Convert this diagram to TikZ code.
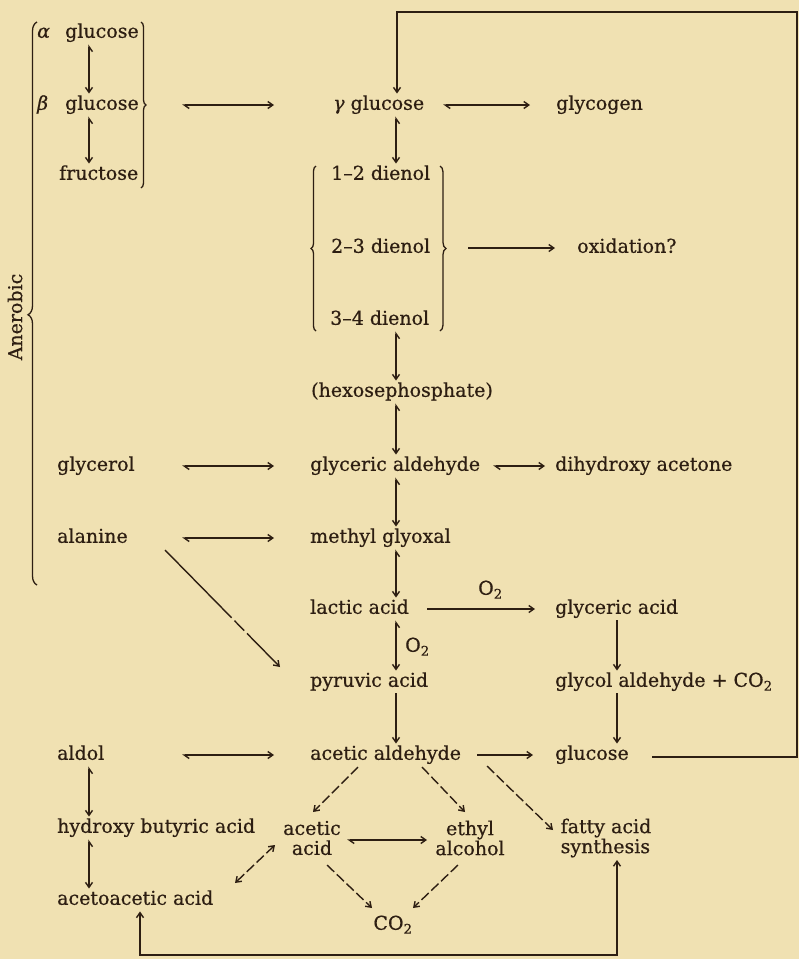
\documentclass[tikz,border=0pt]{standalone}
\usepackage{fontspec}
\setmainfont{DejaVu Serif}[FakeBold=0.6]
\usepackage{tikz}
\usetikzlibrary{arrows.meta, decorations.pathreplacing, calc}
\definecolor{paper}{RGB}{240, 225, 178}
\definecolor{ink}{RGB}{45, 30, 18}

\begin{document}
\begin{tikzpicture}[
    x=1pt, y=-1pt,
    every node/.style={text=ink},
    chem/.style={anchor=west, font=\fontsize{19}{20}\selectfont, text height=14pt, text depth=4.5pt, inner xsep=2pt, inner ysep=2pt},
    twoline/.style={align=center, font=\fontsize{19}{20}\selectfont, inner sep=2pt},
    fwd/.style={draw=ink, line width=1.4pt, -{Straight Barb[length=5pt,width=7pt]}},
    rev/.style={draw=ink, line width=1.4pt, {Straight Barb[harpoon,swap,length=5pt,width=7pt]}-{Straight Barb[length=5pt,width=7pt]}},
    hrev/.style={draw=ink, line width=1.4pt, {Straight Barb[harpoon,length=5pt,width=7pt]}-{Straight Barb[length=5pt,width=7pt]}},
    both/.style={draw=ink, line width=1.4pt, {Straight Barb[length=5pt,width=7pt]}-{Straight Barb[length=5pt,width=7pt]}},
    broken/.style={dash pattern=on 10pt off 3.5pt},
    bracegrp/.style={draw=ink, line width=1.3pt, decorate, decoration={brace, amplitude=#1}},
    bracegrp/.default=5pt
]
    \fill[paper] (0,0) rectangle (799,959);
    \useasboundingbox (0,0) rectangle (799,959);

    % columns
    \coordinate (colL) at (89,0);
    \coordinate (colM) at (396,0);
    \coordinate (colR) at (617,0);
    \coordinate (hA) at (182,0);
    \coordinate (hB) at (274,0);

    % Anerobic group
    \draw[bracegrp=9pt, decoration={aspect=0.48}] (37,585) -- (37,22);
    \node[rotate=90, font=\fontsize{19}{20}\selectfont] (anaer) at (15,317) {Anerobic};

    \node[chem] (alpha) at (35,33) {\textit{α}};
    \node[chem] (glcA) at (63,33) {glucose};
    \node[chem] (beta) at (35,105) {\textit{β}};
    \node[chem] (glcB) at (63,105) {glucose};
    \node[chem] (fruc) at (57,175) {fructose};
    \draw[bracegrp] (141,22) -- (141,188);

    \node[chem] (glycerol) at (55,466) {glycerol};
    \node[chem] (alanine) at (55,538) {alanine};

    % main chain
    \node[chem] (gammaG) at (331,105) {\textit{γ} glucose};
    \node[chem] (glycogen) at (554,105) {glycogen};
    \node[chem] (dienA) at (329,175) {1--2 dienol};
    \node[chem] (dienB) at (329,248) {2--3 dienol};
    \node[chem] (dienC) at (328,320) {3--4 dienol};
    \draw[bracegrp] (316,331) -- (316,166);
    \draw[bracegrp=6pt] (440,166) -- (440,331);
    \node[chem] (oxid) at (575,248) {oxidation?};
    \node[chem] (hexo) at (309,392) {(hexosephosphate)};
    \node[chem] (glyald) at (308,466) {glyceric aldehyde};
    \node[chem] (dihyd) at (553,466) {dihydroxy acetone};
    \node[chem] (methgly) at (308,538) {methyl glyoxal};
    \node[chem] (lactic) at (308,609) {lactic acid};
    \node[chem] (glyacid) at (553,609) {glyceric acid};
    \node[chem] (pyruvic) at (308,682) {pyruvic acid};
    \node[chem] (glycol) at (553,682) {glycol aldehyde + CO\textsubscript{2}};
    \node[chem] (aceald) at (308,755) {acetic aldehyde};
    \node[chem] (glucR) at (553,755) {glucose};
    \node[chem] (oxyA) at (476,590) {O\textsubscript{2}};
    \node[chem] (oxyB) at (403,647) {O\textsubscript{2}};

    % lower part
    \node[chem] (aldol) at (55,755) {aldol};
    \node[chem] (hydroxy) at (55,828) {hydroxy butyric acid};
    \node[chem] (aceto) at (55,900) {acetoacetic acid};
    \node[twoline] (aceticA) at (312,838) {acetic\\acid};
    \node[twoline] (ethyl) at (470,838) {ethyl\\alcohol};
    \node[twoline, align=left] (fatty) at (606,838) {fatty acid\\synthesis};
    \node[chem, anchor=center] (co2) at (393,925) {CO\textsubscript{2}};

    % arrows, left
    \draw[rev] (glcA.south -| colL) -- (glcB.north -| colL);
    \draw[rev] (glcB.south -| colL) -- (fruc.north -| colL);
    \draw[hrev] (glcB -| hA) -- (gammaG -| hB);
    \draw[hrev] (glycerol -| hA) -- (glyald -| hB);
    \draw[hrev] (alanine -| hA) -- (methgly -| hB);
    \draw[hrev] (aldol -| hA) -- (aceald -| hB);
    \draw[rev] (aldol.south -| colL) -- (hydroxy.north -| colL);
    \draw[rev] (hydroxy.south -| colL) -- (aceto.north -| colL);
    \draw[fwd, dash pattern=on 95pt off 4pt on 14pt off 4pt] ([shift={(110,12)}]alanine.west) -- ([shift={(-28,-15)}]pyruvic.west);

    % arrows, centre
    \draw[rev] (gammaG.south -| colM) -- (dienA.north -| colM);
    \draw[rev] (dienC.south -| colM) -- (hexo.north -| colM);
    \draw[rev] (hexo.south -| colM) -- (glyald.north -| colM);
    \draw[rev] (glyald.south -| colM) -- (methgly.north -| colM);
    \draw[rev] (methgly.south -| colM) -- (lactic.north -| colM);
    \draw[rev] (lactic.south -| colM) -- (pyruvic.north -| colM);
    \draw[fwd] (pyruvic.south -| colM) -- (aceald.north -| colM);

    % arrows, right
    \draw[hrev] ([shift={(112,0)}]gammaG.west) -- ([shift={(-24,0)}]glycogen.west);
    \draw[fwd] ([shift={(139,0)}]dienB.west) -- ([shift={(-20,0)}]oxid.west);
    \draw[hrev] ([shift={(185,0)}]glyald.west) -- ([shift={(-8,0)}]dihyd.west);
    \draw[fwd] ([shift={(119,0)}]lactic.west) -- ([shift={(-18,0)}]glyacid.west);
    \draw[fwd] ([shift={(169,0)}]aceald.west) -- ([shift={(-20,0)}]glucR.west);
    \draw[fwd] (glyacid.south -| colR) -- (glycol.north -| colR);
    \draw[fwd] (glycol.south -| colR) -- (glucR.north -| colR);

    % acetic aldehyde products
    \draw[fwd, broken] ([shift={(50,12)}]aceald.west) -- ([shift={(1,-26)}]aceticA.center);
    \draw[fwd, broken] ([shift={(114,12)}]aceald.west) -- ([shift={(-5,-26)}]ethyl.center);
    \draw[fwd, broken] ([shift={(179,11)}]aceald.west) -- ([shift={(-53,-8)}]fatty.center);
    \draw[hrev] ([shift={(35,2)}]aceticA.center) -- ([shift={(-43,2)}]ethyl.center);
    \draw[fwd, broken] ([shift={(15,27)}]aceticA.center) -- ([shift={(-21,-17)}]co2.center);
    \draw[fwd, broken] ([shift={(-12,27)}]ethyl.center) -- ([shift={(20,-17)}]co2.center);
    \draw[both, broken] ([shift={(-37,7)}]aceticA.center) -- ([shift={(180,-17)}]aceto.west);

    % return loops
    \coordinate (loopBR) at (797,757);
    \coordinate (loopTR) at (797,12);
    \coordinate (loopTL) at (397,12);
    \draw[fwd] ([shift={(99,2)}]glucR.west) -- (loopBR) -- (loopTR) -- (loopTL) -- (gammaG.north -| loopTL);
    \coordinate (botL) at (140,955);
    \coordinate (botR) at (617,955);
    \draw[both] (aceto.south -| botL) -- (botL) -- (botR) -- ([shift={(11,22)}]fatty.center);
\end{tikzpicture}
\end{document}
